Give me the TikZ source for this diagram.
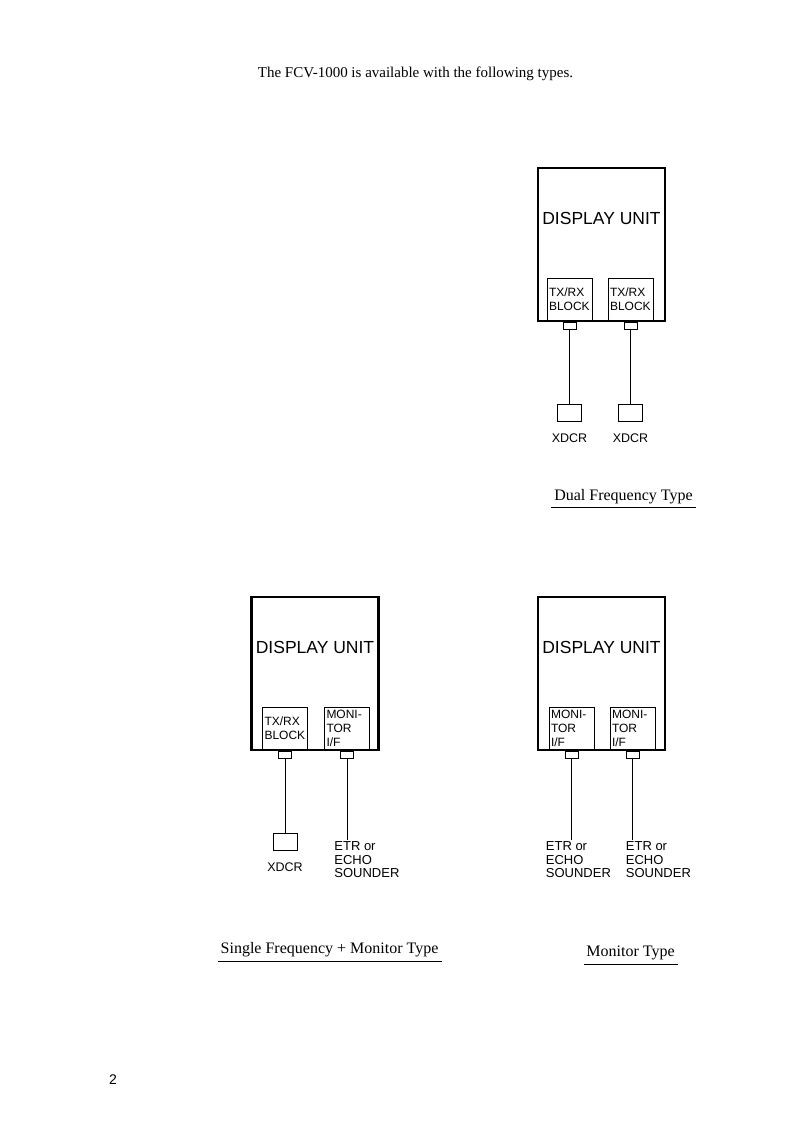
\documentclass[tikz,border=0pt]{standalone}
\usepackage{fontspec}
\setmainfont{Liberation Serif}
\setsansfont{Liberation Sans}
\usetikzlibrary{positioning}

\begin{document}
\begin{tikzpicture}[x=1pt, y=1pt, line width=0.8pt,
  unit/.style={draw, line width=2.6pt, outer sep=0pt, inner sep=0pt,
               minimum width=127pt, minimum height=153pt},
  unitlbl/.style={font=\sffamily\fontsize{17.5}{17.5}\selectfont, anchor=base, inner sep=0pt},
  blk/.style={draw, outer sep=0pt, inner sep=2pt, minimum width=45pt, minimum height=43pt,
              text width=41pt, align=left, font=\sffamily\fontsize{12}{14}\selectfont},
  plug/.style={draw, outer sep=0pt, inner sep=0pt, minimum width=13pt, minimum height=7pt, anchor=north},
  xdcr/.style={draw, outer sep=0pt, inner sep=0pt, minimum width=24pt, minimum height=17pt, anchor=north},
  xlbl/.style={font=\sffamily\fontsize{12.5}{12.5}\selectfont, anchor=base, inner sep=0pt},
  etr/.style={font=\sffamily\fontsize{13}{13.5}\selectfont, align=left, anchor=north west, inner sep=1pt},
  captxt/.style={font=\fontsize{16}{16}\selectfont, anchor=base, inner sep=0pt},
  uline/.style={line width=0.9pt}
]
\useasboundingbox (0,0) rectangle (793,-1122);

\node[captxt, font=\fontsize{15}{15}\selectfont] (ttl) at (415.5,-77) {The FCV-1000 is available with the following types.};

% dual frequency type
\node[unit] (du1) at (601.5,-244.5) {};
\node[unitlbl] (dl1) at ([yshift=-56]du1.north) {DISPLAY UNIT};
\node[blk, anchor=south west] (tr11) at ([xshift=9]du1.south west) {TX/RX\\BLOCK};
\node[blk, anchor=south east] (tr12) at ([xshift=-12]du1.south east) {TX/RX\\BLOCK};
\node[plug] (pl11) at ([yshift=-1.3]tr11.south) {};
\node[plug] (pl12) at ([yshift=-1.3]tr12.south) {};
\node[xdcr] (xd11) at ([yshift=-75]pl11.south) {};
\node[xdcr] (xd12) at ([yshift=-75]pl12.south) {};
\node[xlbl] (xl11) at ([yshift=-21]xd11.south) {XDCR};
\node[xlbl] (xl12) at ([yshift=-21]xd12.south) {XDCR};
\draw (pl11) -- (xd11);
\draw (pl12) -- (xd12);
\node[captxt] (cp1) at (623.5,-500) {Dual Frequency Type};
\draw[uline] ([shift={(-3,-7)}]cp1.base west) -- ([shift={(3,-7)}]cp1.base east);

% single frequency + monitor type
\node[unit] (du2) at (315,-673.5) {};
\node[unitlbl] (dl2) at ([yshift=-56]du2.north) {DISPLAY UNIT};
\node[blk, anchor=south west] (tr21) at ([xshift=11]du2.south west) {TX/RX\\BLOCK};
\node[blk, anchor=south east] (mo22) at ([xshift=-9]du2.south east) {MONI-\\TOR\\I/F};
\node[plug] (pl21) at ([yshift=-1.3]tr21.south) {};
\node[plug] (pl22) at ([yshift=-1.3]mo22.south) {};
\node[xdcr] (xd21) at ([yshift=-75]pl21.south) {};
\node[xlbl] (xl21) at ([yshift=-21]xd21.south) {XDCR};
\node[etr] (et22) at ([shift={(-14,-82)}]pl22.south) {ETR or\\ECHO\\SOUNDER};
\draw (pl21) -- (xd21);
\draw (pl22) -- (pl22.south |- et22.north);
\node[captxt] (cp2) at (329.5,-953) {Single Frequency + Monitor Type};
\draw[uline] ([shift={(-2,-8)}]cp2.base west) -- ([shift={(3,-8)}]cp2.base east);

% monitor type
\node[unit] (du3) at (601.5,-673.5) {};
\node[unitlbl] (dl3) at ([yshift=-56]du3.north) {DISPLAY UNIT};
\node[blk, anchor=south west] (mo31) at ([xshift=11]du3.south west) {MONI-\\TOR\\I/F};
\node[blk, anchor=south east] (mo32) at ([xshift=-10]du3.south east) {MONI-\\TOR\\I/F};
\node[plug] (pl31) at ([yshift=-1.3]mo31.south) {};
\node[plug] (pl32) at ([yshift=-1.3]mo32.south) {};
\node[etr] (et31) at ([shift={(-27,-82)}]pl31.south) {ETR or\\ECHO\\SOUNDER};
\node[etr] (et32) at ([shift={(-8,-82)}]pl32.south) {ETR or\\ECHO\\SOUNDER};
\draw (pl31) -- (pl31.south |- et31.north);
\draw (pl32) -- (pl32.south |- et32.north);
\node[captxt] (cp3) at (630.5,-956) {Monitor Type};
\draw[uline] ([shift={(-2,-8)}]cp3.base west) -- ([shift={(3,-8)}]cp3.base east);

\node[xlbl, font=\sffamily\fontsize{14}{14}\selectfont] (pg) at (113,-1084) {2};
\end{tikzpicture}
\end{document}
